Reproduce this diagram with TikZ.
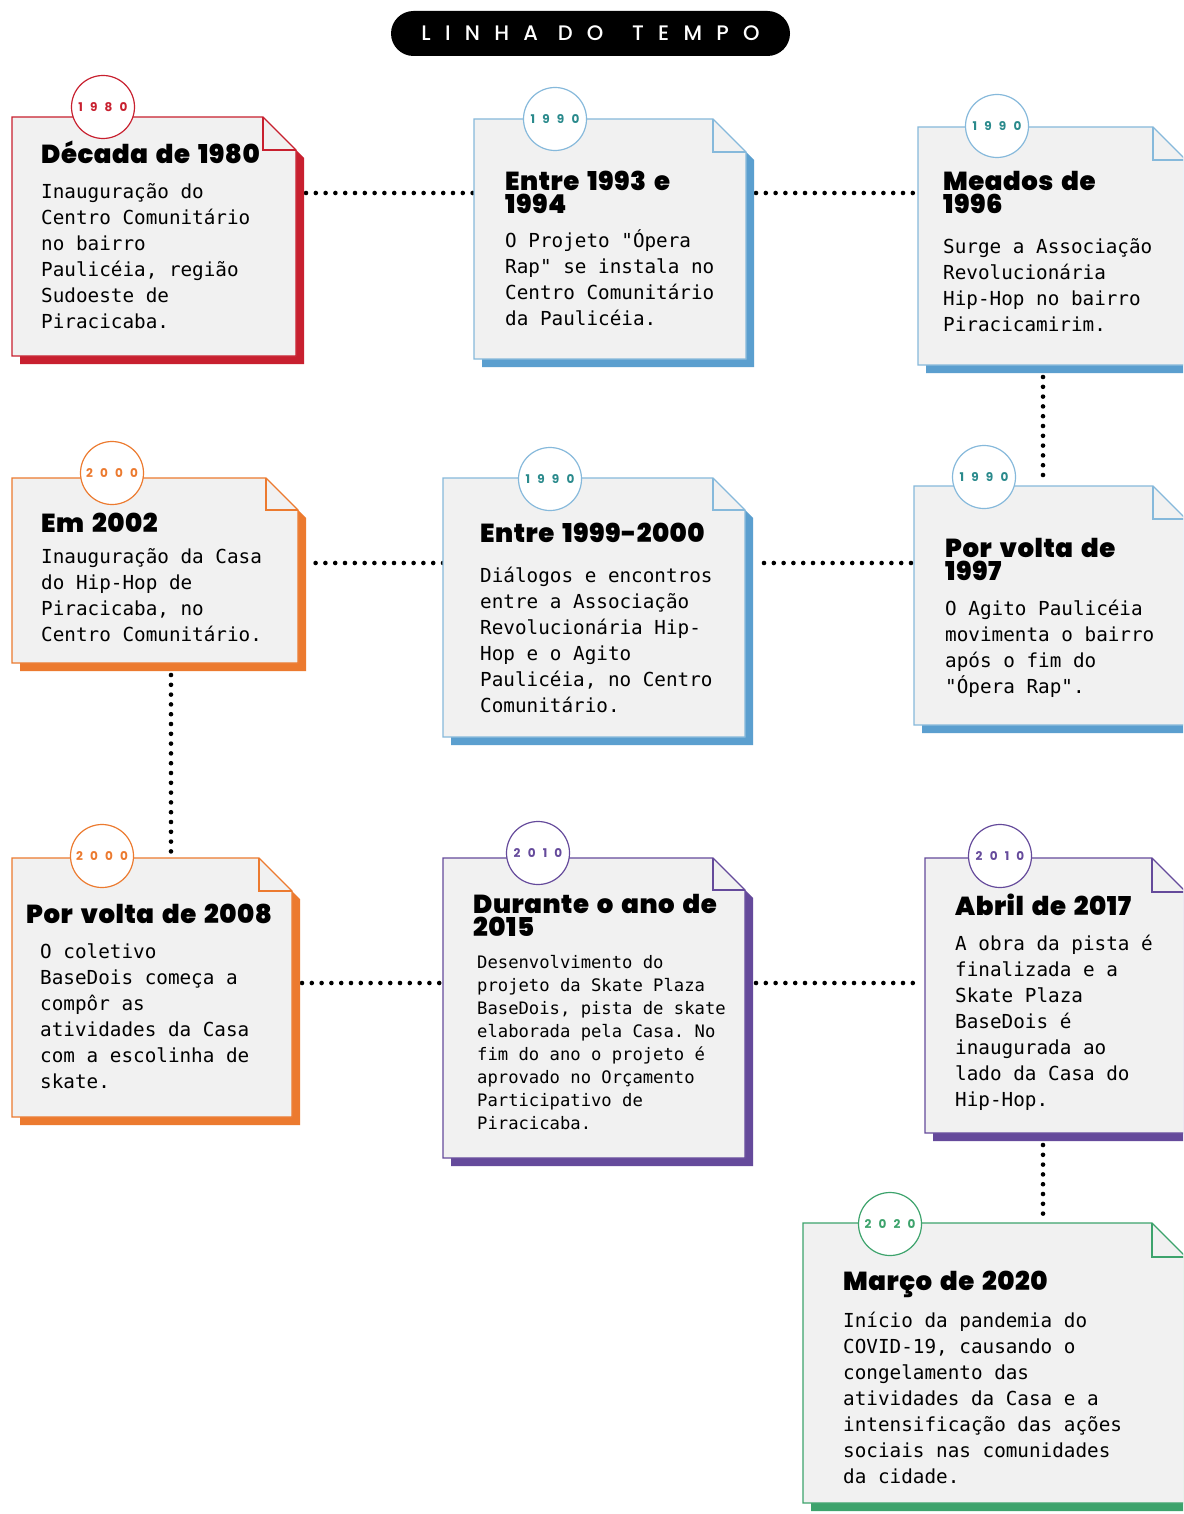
\documentclass[tikz,border=0pt]{standalone}
\usepackage{fontspec}
\setmonofont{DejaVu Sans Mono}
\IfFontExistsTF{Poppins Black}
  {\newfontfamily\headfont[LetterSpace=2,WordSpace=1.6]{Poppins Black}}
  {\newfontfamily\headfont[UprightFont=*-Bold,LetterSpace=2,WordSpace=1.6]{Poppins}}
\IfFontExistsTF{Poppins Medium}
  {\newfontfamily\titlefont[LetterSpace=68]{Poppins Medium}}
  {\newfontfamily\titlefont[LetterSpace=68]{Poppins}}
\newfontfamily\yearfont[LetterSpace=60]{Poppins}

\definecolor{papel}{HTML}{F1F1F1}
\definecolor{vermelho}{HTML}{C8202F}
\definecolor{azul}{HTML}{5B9FCF}
\definecolor{azulclaro}{HTML}{86B9DB}
\definecolor{turquesa}{HTML}{2A8A8C}
\definecolor{laranja}{HTML}{EC7A2F}
\definecolor{roxo}{HTML}{654A9B}
\definecolor{verde}{HTML}{3DA36C}

% card: #1 outline, #2 shadow, #3 left, #4 top, #5 fold, #6 right, #7 bottom
\newcommand{\cartao}[7]{%
  \fill[#2] ({#3+8},{#4+8}) -- ({#5+8},{#4+8}) -- ({#6+8},{#4+#6-#5+8})
    -- ({#6+8},{#7+8}) -- ({#3+8},{#7+8}) -- cycle;
  \filldraw[fill=papel,draw=#1,line width=1.3pt] (#3,#4) -- (#5,#4)
    -- (#6,{#4+#6-#5}) -- (#6,#7) -- (#3,#7) -- cycle;
  \draw[#1,line width=1.3pt] (#5,#4) -- (#5,{#4+#6-#5}) -- (#6,{#4+#6-#5});
}
\newcommand{\topo}{\rule{0pt}{24pt}}
\newcommand{\topotit}{\rule{0pt}{32pt}}
\newcommand{\semsalto}{\lineskiplimit-40pt\relax}

\begin{document}
\begin{tikzpicture}[x=1pt,y=-1pt,line join=miter,
  titulo/.style={fill=black,text=white,rounded corners=22.5pt,minimum width=399pt,
    minimum height=45pt,inner sep=0pt,font=\titlefont\fontsize{21}{21}\selectfont},
  selo/.style={circle,draw=#1,fill=white,line width=1.2pt,minimum size=63pt,inner sep=0pt,
    font=\yearfont\bfseries\fontsize{12}{12}\selectfont},
  ano/.style={text=#1},
  titcard/.style={anchor=north west,inner sep=0pt,align=left,
    font={\headfont\fontsize{26}{23}\selectfont\semsalto}},
  corpo/.style={anchor=north west,inner sep=0pt,align=left,
    font={\ttfamily\fontsize{19.3}{26}\selectfont\semsalto}},
  corpomenor/.style={anchor=north west,inner sep=0pt,align=left,
    font={\ttfamily\fontsize{17.2}{23}\selectfont\semsalto}},
  pontos/.style={line width=4.6pt,line cap=round,dash pattern=on 0pt off 9.8pt}]
  \useasboundingbox (0,0) rectangle (1183,1514);
  \clip (0,0) rectangle (1183,1514);
  \fill[white] (0,0) rectangle (1183,1514);

  \node[titulo] (titulo) at (590.5,33.5) {LINHA DO\hspace{9pt} TEMPO\hspace{-14pt}};

  % connectors
  \coordinate (l1a) at (306,193);  \coordinate (l1b) at (473,193);
  \coordinate (l2a) at (756,193);  \coordinate (l2b) at (914,193);
  \coordinate (v1a) at (1043,377); \coordinate (v1b) at (1043,481);
  \coordinate (l3a) at (759,563);  \coordinate (l3b) at (911,563);
  \coordinate (l4a) at (308,563);  \coordinate (l4b) at (443,563);
  \coordinate (v2a) at (171,675);  \coordinate (v2b) at (171,853);
  \coordinate (l5a) at (302,983);  \coordinate (l5b) at (441,983);
  \coordinate (l6a) at (756,983);  \coordinate (l6b) at (922,983);
  \coordinate (v3a) at (1043,1145); \coordinate (v3b) at (1043,1219);
  \draw[pontos] (l1a) -- (l1b);
  \draw[pontos] (l2a) -- (l2b);
  \draw[pontos] (v1a) -- (v1b);
  \draw[pontos] (l3b) -- (l3a);
  \draw[pontos] (l4b) -- (l4a);
  \draw[pontos] (v2a) -- (v2b);
  \draw[pontos] (l5a) -- (l5b);
  \draw[pontos] (l6a) -- (l6b);
  \draw[pontos] (v3a) -- (v3b);

  % cards
  \cartao{vermelho}{vermelho}{12}{117}{263}{296}{356}
  \cartao{azulclaro}{azul}{474}{119}{713}{746}{359}
  \cartao{azulclaro}{azul}{918}{127}{1153}{1186}{365}
  \cartao{laranja}{laranja}{12}{478}{266}{298}{663}
  \cartao{azulclaro}{azul}{443}{478}{713}{745}{737}
  \cartao{azulclaro}{azul}{914}{486}{1153}{1186}{725}
  \cartao{laranja}{laranja}{12}{858}{259}{292}{1117}
  \cartao{roxo}{roxo}{443}{858}{713}{745}{1158}
  \cartao{roxo}{roxo}{925}{858}{1152}{1186}{1133}
  \cartao{verde}{verde}{803}{1223}{1152}{1186}{1503}

  % year badges
  \node[selo=vermelho,ano=vermelho] (s1980) at (103,107) {1980\hspace{-7pt}};
  \node[selo=azulclaro,ano=turquesa] (s1993) at (555,119) {1990\hspace{-7pt}};
  \node[selo=azulclaro,ano=turquesa] (s1996) at (997,126) {1990\hspace{-7pt}};
  \node[selo=laranja,ano=laranja] (s2002) at (112,473) {2000\hspace{-7pt}};
  \node[selo=azulclaro,ano=turquesa] (s1999) at (550,479) {1990\hspace{-7pt}};
  \node[selo=azulclaro,ano=turquesa] (s1997) at (984,477) {1990\hspace{-7pt}};
  \node[selo=laranja,ano=laranja] (s2008) at (102,856) {2000\hspace{-7pt}};
  \node[selo=roxo,ano=roxo] (s2015) at (538,853) {2010\hspace{-7pt}};
  \node[selo=roxo,ano=roxo] (s2017) at (1000,856) {2010\hspace{-7pt}};
  \node[selo=verde,ano=verde] (s2020) at (890,1224) {2020\hspace{-7pt}};

  % texts
  \node[titcard] (t1980) at (41,131) {\topotit Década de 1980};
  \node[corpo] (c1980) at (41,174) {\topo Inauguração do\\Centro Comunitário\\no bairro\\Paulicéia, região\\Sudoeste de\\Piracicaba.};
  \node[titcard] (t1993) at (505,158) {\topotit Entre 1993 e\\1994};
  \node[corpo] (c1993) at (505,223) {\topo O Projeto "Ópera\\Rap" se instala no\\Centro Comunitário\\da Paulicéia.};
  \node[titcard] (t1996) at (943,158) {\topotit Meados de\\1996};
  \node[corpo] (c1996) at (943,229) {\topo Surge a Associação\\Revolucionária\\Hip-Hop no bairro\\Piracicamirim.};
  \node[titcard] (t2002) at (41,500) {\topotit Em 2002};
  \node[corpo] (c2002) at (41,539) {\topo Inauguração da Casa\\do Hip-Hop de\\Piracicaba, no\\Centro Comunitário.};
  \node[titcard] (t1999) at (480,510) {\topotit Entre 1999-2000};
  \node[corpo] (c1999) at (480,558) {\topo Diálogos e encontros\\entre a Associação\\Revolucionária Hip-\\Hop e o Agito\\Paulicéia, no Centro\\Comunitário.};
  \node[titcard] (t1997) at (945,525) {\topotit Por volta de\\1997};
  \node[corpo] (c1997) at (945,591) {\topo O Agito Paulicéia\\movimenta o bairro\\após o fim do\\"Ópera Rap".};
  \node[titcard] (t2008) at (26,891) {\topotit Por volta de 2008};
  \node[corpo] (c2008) at (40,934) {\topo O coletivo\\BaseDois começa a\\compôr as\\atividades da Casa\\com a escolinha de\\skate.};
  \node[titcard] (t2015) at (473,881) {\topotit Durante o ano de\\2015};
  \node[corpomenor] (c2015) at (477,944) {\topo Desenvolvimento do\\projeto da Skate Plaza\\BaseDois, pista de skate\\elaborada pela Casa. No\\fim do ano o projeto é\\aprovado no Orçamento\\Participativo de\\Piracicaba.};
  \node[titcard] (t2017) at (955,883) {\topotit Abril de 2017};
  \node[corpo] (c2017) at (955,926) {\topo A obra da pista é\\finalizada e a\\Skate Plaza\\BaseDois é\\inaugurada ao\\lado da Casa do\\Hip-Hop.};
  \node[titcard] (t2020) at (843,1258) {\topotit Março de 2020};
  \node[corpo] (c2020) at (843,1303) {\topo Início da pandemia do\\COVID-19, causando o\\congelamento das\\atividades da Casa e a\\intensificação das ações\\sociais nas comunidades\\da cidade.};
\end{tikzpicture}
\end{document}
